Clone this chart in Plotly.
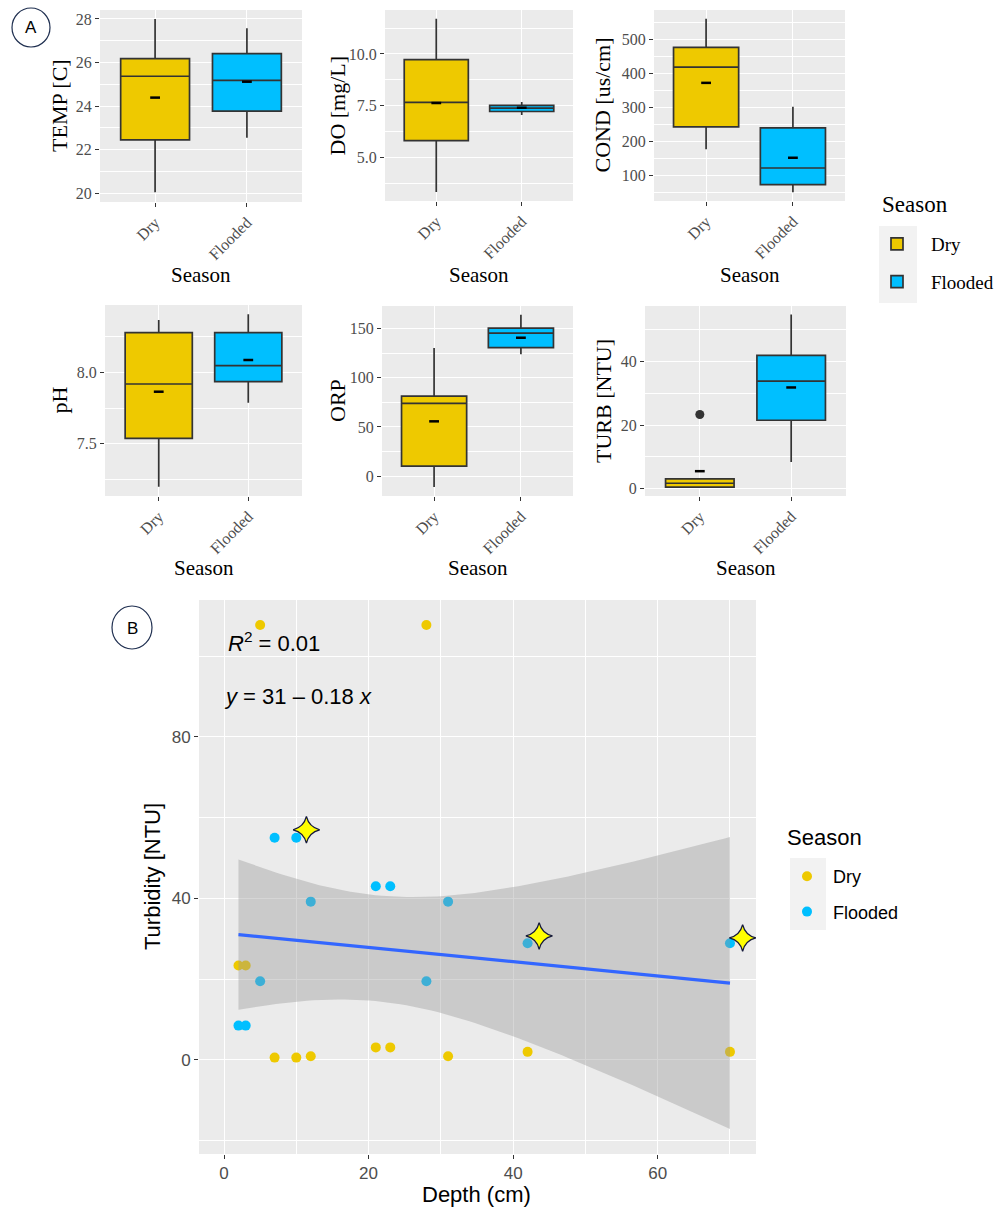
import numpy as np
import plotly.graph_objects as go

W, H = 999, 1209
SERIF = "Liberation Serif"
SANS = "Liberation Sans"
TICK_GREY = "#4D4D4D"
BOX_LINE = "#333333"

seasons = ["Dry", "Flooded"]
season_colors = {"Dry": "#EEC900", "Flooded": "#00BFFF"}

# ---- Panel A: box-plot summaries  [lower whisker, Q1, median, Q3, upper whisker]
temp_dry = [20.05, 22.45, 25.37, 26.18, 28.0]
temp_flooded = [22.55, 23.77, 25.18, 26.41, 27.57]
do_dry = [3.33, 5.81, 7.66, 9.72, 11.70]
do_flooded = [7.05, 7.22, 7.38, 7.52, 7.68]
cond_dry = [177, 243, 418, 476, 560]
cond_flooded = [51, 73, 122, 240, 302]
ph_dry = [7.199, 7.538, 7.918, 8.277, 8.366]
ph_flooded = [7.787, 7.934, 8.046, 8.277, 8.406]
orp_dry = [-11.2, 10.2, 73.9, 81.4, 130.3]
orp_flooded = [124.0, 130.8, 145.5, 150.6, 164.3]
turb_dry = [0.4, 0.5, 1.7, 3.1, 3.3]
turb_flooded = [8.4, 21.5, 33.8, 41.9, 54.7]

# group means [Dry, Flooded]
temp_mean = [24.39, 25.12]
do_mean = [7.63, 7.40]
cond_mean = [372, 152]
ph_mean = [7.864, 8.086]
orp_mean = [55.7, 140.8]
turb_mean = [5.5, 31.8]

# outliers beyond the whiskers
turb_outlier_dry = [23.3]

# ---- Panel B: turbidity vs depth
depth_dry = [5, 28, 2, 3, 7, 10, 12, 21, 23, 31, 42, 70]
turbidity_dry = [107.7, 107.7, 23.4, 23.4, 0.57, 0.57, 0.9, 3.1, 3.1, 0.9, 2.0, 2.0]
depth_flooded = [7, 10, 21, 23, 12, 31, 5, 28, 2, 3, 42, 70]
turbidity_flooded = [55.0, 55.0, 43.0, 43.0, 39.2, 39.2, 19.5, 19.5, 8.5, 8.5, 28.9, 28.9]
marked_depth = [11.4, 43.6, 71.75]
marked_turbidity = [57.0, 30.7, 30.2]


def dom_x(a, b):
    return [a / W, b / W]


def dom_y(top, bottom):
    return [1 - bottom / H, 1 - top / H]


def paper_text(text, xpx, ypx, size, family, angle=0, color="black"):
    return dict(text=text, x=xpx / W, y=1 - ypx / H, xref="paper", yref="paper",
                xanchor="center", yanchor="middle", showarrow=False, textangle=angle,
                font=dict(family=family, size=size, color=color))


panels = [
    # title, dry stats, flooded stats, means, y range, dtick, minor, format, x px, y px, outliers
    ("TEMP [C]", temp_dry, temp_flooded, temp_mean, [19.6, 28.41], 2, 1, "", (100, 302), (10, 202), None),
    ("DO [mg/L]", do_dry, do_flooded, do_mean, [2.9, 12.12], 2.5, 1.25, ".1f", (385, 573), (10, 201), None),
    ("COND [us/cm]", cond_dry, cond_flooded, cond_mean, [25, 586], 100, 50, "", (654, 845), (10, 201), None),
    ("pH", ph_dry, ph_flooded, ph_mean, [7.134, 8.471], 0.5, 0.25, ".1f", (105, 302), (305, 496), None),
    ("ORP", orp_dry, orp_flooded, orp_mean, [-20.3, 173.1], 50, 25, "", (382, 573), (306, 496), None),
    ("TURB [NTU]", turb_dry, turb_flooded, turb_mean, [-2.3, 57.4], 20, 10, "", (645, 846), (306, 496), turb_outlier_dry),
]
ytitle_x = [60, 337, 602, 59, 337, 603]

fig = go.Figure()
layout = {}
annotations = []

for i, (title, sd, sf, means, yr, dt, mdt, fmt, xpx, ypx, outl) in enumerate(panels):
    k = i + 1
    xa = "x" if k == 1 else f"x{k}"
    ya = "y" if k == 1 else f"y{k}"
    for s, stats in zip(seasons, [sd, sf]):
        fig.add_trace(go.Box(
            x=[s], lowerfence=[stats[0]], q1=[stats[1]], median=[stats[2]],
            q3=[stats[3]], upperfence=[stats[4]],
            fillcolor=season_colors[s], line=dict(color=BOX_LINE, width=1.7),
            whiskerwidth=0, width=0.75, boxpoints=False,
            name=s, legendgroup=s, showlegend=(k == 1), legend="legend",
            xaxis=xa, yaxis=ya, hoverinfo="skip",
        ))
    fig.add_trace(go.Scatter(
        x=seasons, y=means, mode="markers",
        marker=dict(symbol="line-ew", size=7, line=dict(color="black", width=2.5)),
        showlegend=False, xaxis=xa, yaxis=ya, hoverinfo="skip",
    ))
    if outl:
        fig.add_trace(go.Scatter(
            x=["Dry"] * len(outl), y=outl, mode="markers",
            marker=dict(symbol="circle", size=9, color="#333333"),
            showlegend=False, xaxis=xa, yaxis=ya, hoverinfo="skip",
        ))

    layout["xaxis" if k == 1 else f"xaxis{k}"] = dict(
        domain=dom_x(*xpx), anchor=ya, type="category",
        categoryorder="array", categoryarray=seasons, range=[-0.6, 1.6],
        showgrid=True, gridcolor="white", gridwidth=1.4, zeroline=False,
        ticks="outside", ticklen=4, tickcolor=BOX_LINE, tickangle=-45,
        tickfont=dict(family=SERIF, size=16, color=TICK_GREY),
    )
    layout["yaxis" if k == 1 else f"yaxis{k}"] = dict(
        domain=dom_y(*ypx), anchor=xa, range=yr, dtick=dt, tick0=0,
        tickformat=fmt, showgrid=True, gridcolor="white", gridwidth=1.4,
        zeroline=False, ticks="outside", ticklen=4, tickcolor=BOX_LINE,
        tickfont=dict(family=SERIF, size=16, color=TICK_GREY),
        minor=dict(dtick=mdt, tick0=0, showgrid=True, gridcolor="white", gridwidth=0.7, ticks=""),
    )
    xc = (xpx[0] + xpx[1]) / 2
    annotations.append(paper_text("Season", xc, 275 if k <= 3 else 568, 21, SERIF))
    annotations.append(paper_text(title, ytitle_x[i], (ypx[0] + ypx[1]) / 2, 22, SERIF, angle=-90))

# ---- Panel B: points, linear fit with 95% confidence band
fig.add_trace(go.Scatter(
    x=depth_dry, y=turbidity_dry, mode="markers", name="Dry",
    marker=dict(size=10, color=season_colors["Dry"]),
    legend="legend2", legendgroup="pts_dry", xaxis="x7", yaxis="y7", hoverinfo="skip",
))
fig.add_trace(go.Scatter(
    x=depth_flooded, y=turbidity_flooded, mode="markers", name="Flooded",
    marker=dict(size=10, color=season_colors["Flooded"]),
    legend="legend2", legendgroup="pts_flooded", xaxis="x7", yaxis="y7", hoverinfo="skip",
))

x_all = np.array(depth_dry + depth_flooded, dtype=float)
y_all = np.array(turbidity_dry + turbidity_flooded, dtype=float)
n = x_all.size
slope, intercept = np.polyfit(x_all, y_all, 1)
resid = y_all - (intercept + slope * x_all)
ss_res = float(np.sum(resid ** 2))
ss_tot = float(np.sum((y_all - y_all.mean()) ** 2))
r2 = 1 - ss_res / ss_tot
s_err = np.sqrt(ss_res / (n - 2))
sxx = float(np.sum((x_all - x_all.mean()) ** 2))
T_CRIT = 2.0739  # t(0.975, df = 22)

x_fit = np.linspace(x_all.min(), x_all.max(), 80)
y_fit = intercept + slope * x_fit
half = T_CRIT * s_err * np.sqrt(1 / n + (x_fit - x_all.mean()) ** 2 / sxx)

fig.add_trace(go.Scatter(
    x=np.concatenate([x_fit, x_fit[::-1]]),
    y=np.concatenate([y_fit + half, (y_fit - half)[::-1]]),
    fill="toself", fillcolor="rgba(153,153,153,0.4)", line=dict(width=0),
    mode="lines", showlegend=False, xaxis="x7", yaxis="y7", hoverinfo="skip",
))
fig.add_trace(go.Scatter(
    x=x_fit, y=y_fit, mode="lines", line=dict(color="#3366FF", width=3.2),
    showlegend=False, xaxis="x7", yaxis="y7", hoverinfo="skip",
))
fig.add_trace(go.Scatter(
    x=marked_depth, y=marked_turbidity, mode="markers",
    marker=dict(symbol="star-diamond", size=19, color="#FFFF00",
                line=dict(color="#14183C", width=1.3)),
    showlegend=False, xaxis="x7", yaxis="y7", hoverinfo="skip",
))

layout["xaxis7"] = dict(
    domain=dom_x(199, 756), anchor="y7", range=[-3.46, 73.6], dtick=20, tick0=0,
    showgrid=True, gridcolor="white", gridwidth=1.4, zeroline=False,
    ticks="outside", ticklen=4, tickcolor=BOX_LINE,
    tickfont=dict(family=SANS, size=17, color=TICK_GREY),
    minor=dict(dtick=10, tick0=0, showgrid=True, gridcolor="white", gridwidth=0.7, ticks=""),
)
layout["yaxis7"] = dict(
    domain=dom_y(600, 1154), anchor="x7", range=[-23.3, 113.9], dtick=40, tick0=0,
    showgrid=True, gridcolor="white", gridwidth=1.4, zeroline=False,
    ticks="outside", ticklen=4, tickcolor=BOX_LINE,
    tickfont=dict(family=SANS, size=17, color=TICK_GREY),
    minor=dict(dtick=20, tick0=0, showgrid=True, gridcolor="white", gridwidth=0.7, ticks=""),
)

sign = "–" if slope < 0 else "+"
annotations += [
    dict(text=f"<i>R</i><sup>2</sup> = {r2:.2f}", x=0.25, y=103.4, xref="x7", yref="y7",
         xanchor="left", yanchor="middle", showarrow=False,
         font=dict(family=SANS, size=22, color="black")),
    dict(text=f"<i>y</i> = {intercept:.0f} {sign} {abs(slope):.2f} <i>x</i>", x=-0.3, y=90.1,
         xref="x7", yref="y7", xanchor="left", yanchor="middle", showarrow=False,
         font=dict(family=SANS, size=22, color="black")),
    paper_text("Turbidity [NTU]", 152, 877, 22, SANS, angle=-90),
    paper_text("Depth (cm)", 476, 1194, 22, SANS),
    paper_text("A", 31, 28, 17, SANS),
    paper_text("B", 132, 628, 17, SANS),
    # legend headings
    dict(text="Season", x=880 / W, y=1 - 205 / H, xref="paper", yref="paper",
         xanchor="left", yanchor="middle", showarrow=False,
         font=dict(family=SERIF, size=23, color="black")),
    dict(text="Season", x=785 / W, y=1 - 837 / H, xref="paper", yref="paper",
         xanchor="left", yanchor="middle", showarrow=False,
         font=dict(family=SANS, size=22, color="black")),
]

shapes = [
    dict(type="circle", xref="paper", yref="paper", x0=12 / W, x1=50 / W,
         y0=1 - 47 / H, y1=1 - 8 / H, line=dict(color="#1F2F50", width=1.2)),
    dict(type="circle", xref="paper", yref="paper", x0=112 / W, x1=152 / W,
         y0=1 - 649 / H, y1=1 - 606 / H, line=dict(color="#1F2F50", width=1.2)),
    # grey key backgrounds of the two legends
    dict(type="rect", xref="paper", yref="paper", x0=879 / W, x1=917 / W,
         y0=1 - 303 / H, y1=1 - 226 / H, fillcolor="#F2F2F2", line=dict(width=0), layer="below"),
    dict(type="rect", xref="paper", yref="paper", x0=790 / W, x1=826 / W,
         y0=1 - 930 / H, y1=1 - 858 / H, fillcolor="#F2F2F2", line=dict(width=0), layer="below"),
]

fig.update_layout(
    width=W, height=H, margin=dict(l=0, r=0, t=0, b=0),
    paper_bgcolor="white", plot_bgcolor="#EBEBEB",
    boxmode="overlay",
    annotations=annotations, shapes=shapes,
    legend=dict(
        font=dict(family=SERIF, size=19, color="black"),
        x=863 / W, y=1 - 225 / H, xanchor="left", yanchor="top",
        bgcolor="rgba(0,0,0,0)", tracegroupgap=10, traceorder="grouped",
        itemwidth=58,
    ),
    legend2=dict(
        font=dict(family=SANS, size=18, color="black"),
        x=781 / W, y=1 - 858 / H, xanchor="left", yanchor="top",
        bgcolor="rgba(0,0,0,0)", tracegroupgap=9, traceorder="grouped",
        itemwidth=42,
    ),
    **layout,
)

fig.write_html("out.html")
